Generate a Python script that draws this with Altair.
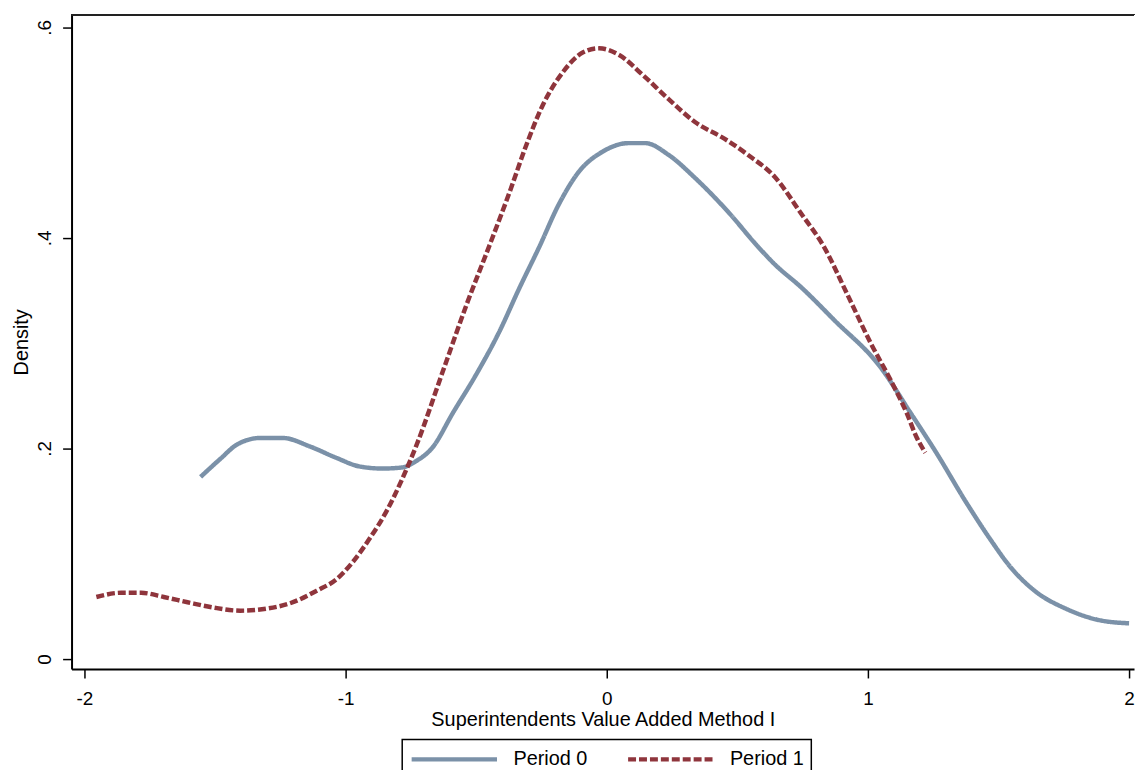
import altair as alt
import pandas as pd

# ---- data ----
series_names = ["Period 0", "Period 1"]

p0_x = [-1.555, -1.48, -1.414, -1.327, -1.24, -1.137, -1.034, -0.947, -0.859, -0.783,
        -0.73, -0.67, -0.586, -0.498, -0.411, -0.335, -0.259, -0.183, -0.106, -0.015,
        0.084, 0.148, 0.236, 0.338, 0.464, 0.578, 0.643, 0.745, 0.871, 1.049,
        1.163, 1.262, 1.376, 1.468, 1.544, 1.643, 1.757, 1.886, 2.0]
p0_y = [0.173, 0.190, 0.204, 0.210, 0.210, 0.202, 0.191, 0.183, 0.181, 0.182,
        0.188, 0.200, 0.235, 0.271, 0.311, 0.352, 0.391, 0.432, 0.463, 0.482,
        0.490, 0.490, 0.479, 0.457, 0.425, 0.392, 0.375, 0.353, 0.322, 0.277,
        0.234, 0.196, 0.149, 0.114, 0.088, 0.064, 0.048, 0.037, 0.034]

p1_x = [-1.954, -1.859, -1.783, -1.696, -1.605, -1.506, -1.403, -1.30, -1.213, -1.11,
        -1.034, -0.973, -0.909, -0.844, -0.783, -0.727, -0.625, -0.536, -0.447, -0.371,
        -0.308, -0.245, -0.169, -0.092, -0.029, 0.046, 0.137, 0.236, 0.338, 0.452,
        0.54, 0.643, 0.745, 0.833, 0.92, 1.011, 1.087, 1.148, 1.186, 1.22]
p1_y = [0.059, 0.063, 0.063, 0.059, 0.054, 0.049, 0.046, 0.048, 0.053, 0.065,
        0.076, 0.092, 0.114, 0.140, 0.171, 0.204, 0.275, 0.337, 0.394, 0.444,
        0.488, 0.526, 0.557, 0.576, 0.580, 0.574, 0.555, 0.532, 0.510, 0.494,
        0.479, 0.458, 0.423, 0.391, 0.347, 0.300, 0.265, 0.234, 0.211, 0.196]

x_ticks = [-2, -1, 0, 1, 2]
y_ticks = [0, 0.2, 0.4, 0.6]

title_text = "Figure 3: Distribution of Superintendents' Value Added by Period"
x_title = "Superintendents Value Added Method I"
y_title = "Density"

colors = ["#7b91a8", "#8f353c"]
dashes = [[1, 0], [8, 3]]

rows = []
for name, xs, ys in [(series_names[0], p0_x, p0_y), (series_names[1], p1_x, p1_y)]:
    for xv, yv in zip(xs, ys):
        rows.append({"period": name, "x": xv, "y": yv})
df = pd.DataFrame(rows)

FONT = "Liberation Sans"

x_scale = alt.Scale(domain=[-2.049, 2.019], nice=False, zero=False)
y_scale = alt.Scale(domain=[-0.0094, 0.612], nice=False, zero=False)

lines = alt.Chart(df).mark_line(
    strokeWidth=4.5, interpolate="monotone", strokeCap="butt"
).encode(
    x=alt.X("x:Q", scale=x_scale,
            axis=alt.Axis(values=x_ticks, title=x_title,
                          labelExpr="datum.value + ''",
                          labelPadding=12, titlePadding=1)),
    y=alt.Y("y:Q", scale=y_scale,
            axis=alt.Axis(values=y_ticks, title=y_title, labelAngle=270,
                          labelAlign="center", labelBaseline="bottom",
                          labelPadding=8, titlePadding=4,
                          labelExpr="datum.value == 0 ? '0' : replace(format(datum.value, '.1f'), '0.', '.')")),
    color=alt.Color("period:N", title=None,
                    scale=alt.Scale(domain=series_names, range=colors)),
    strokeDash=alt.StrokeDash("period:N", title=None,
                              scale=alt.Scale(domain=series_names, range=dashes)),
)

# top frame line of the plot region
frame = alt.Chart(df).mark_rule(color="#222222", strokeWidth=1.5).encode(
    x=alt.value(0), x2=alt.value("width"), y=alt.value(0)
)

chart = alt.layer(lines, frame).properties(
    width=1070,
    height=659,
    background="white",
    autosize=alt.AutoSizeParams(type="none"),
    padding={"left": 64, "top": 4, "right": 3, "bottom": 99},
    title=alt.TitleParams(text=title_text, font=FONT, fontSize=28, fontWeight="normal",
                          color="black", baseline="alphabetic", offset=2,
                          anchor="middle", frame="group", dx=8),
).configure_view(
    strokeWidth=0
).configure_axis(
    labelFont=FONT, labelFontSize=19, labelColor="black",
    titleFont=FONT, titleFontSize=20, titleFontWeight="normal", titleColor="black",
    domainColor="black", domainWidth=2, tickColor="black", tickSize=9, tickWidth=1.5,
    grid=False,
).configure_legend(
    orient="none", legendX=333, legendY=730, direction="horizontal",
    strokeColor="black", strokeWidth=1.5, padding=7,
    columnPadding=38, labelOffset=14, clipHeight=26,
    symbolSize=7396, symbolStrokeWidth=4.5, symbolType="stroke",
    labelFont=FONT, labelFontSize=20, labelColor="black",
)

chart.save("out.html", embed_options={"renderer": "svg", "actions": False})
